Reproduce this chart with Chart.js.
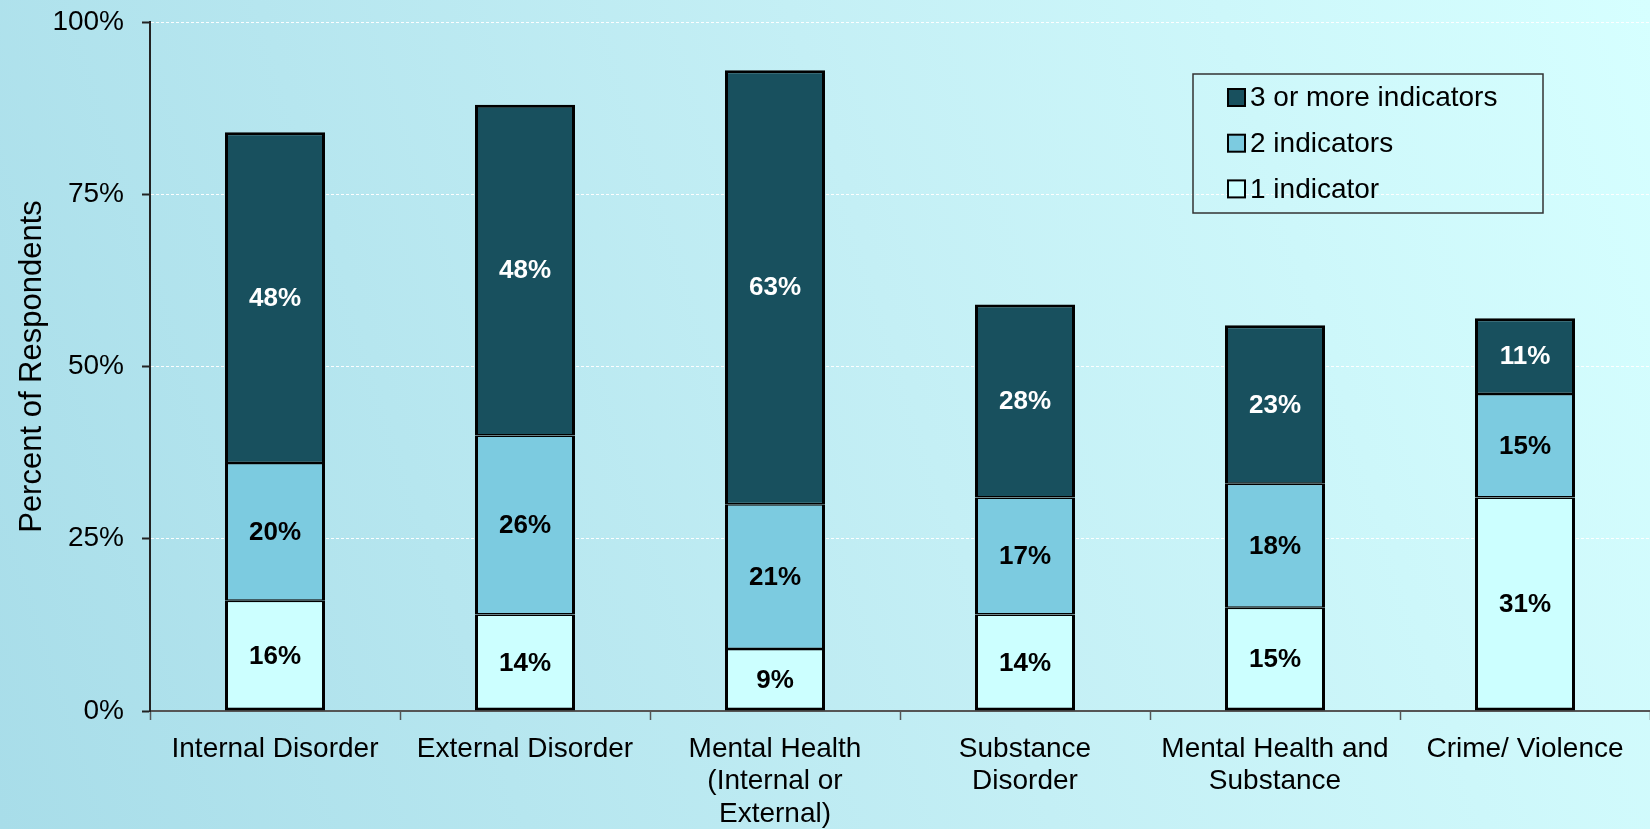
<!DOCTYPE html>
<html>
<head>
<meta charset="utf-8">
<script src="https://cdn.jsdelivr.net/npm/chart.js@4/dist/chart.umd.min.js"></script>
<style>
  html, body { margin: 0; padding: 0; }
  body {
    width: 1650px;
    height: 829px;
    overflow: hidden;
    background: linear-gradient(72deg, #a8dde9 0%, #c4eff5 55%, #d6ffff 100%);
  }
  #wrap { position: relative; width: 1650px; height: 829px; }
</style>
</head>
<body>
<div id="wrap"><canvas id="chart" width="1650" height="829"></canvas></div>
<script>
// Categories and the three stacked series (percent of respondents).
const categories = [
  "Internal Disorder",
  "External Disorder",
  ["Mental Health", "(Internal or", "External)"],
  ["Substance", "Disorder"],
  ["Mental Health and", "Substance"],
  "Crime/ Violence",
];
const oneIndicator = [16, 14, 9, 14, 15, 31];
const twoIndicators = [20, 26, 21, 17, 18, 15];
const threePlusIndicators = [48, 48, 63, 28, 23, 11];
const yTicks = [0, 25, 50, 75, 100];

const FONT = "'Liberation Sans', Arial, sans-serif";

// Writes each segment's value in the middle of the segment.
const segmentLabels = {
  id: "segmentLabels",
  afterDatasetsDraw(chart) {
    const { ctx } = chart;
    ctx.save();
    ctx.font = `bold 26px ${FONT}`;
    ctx.textAlign = "center";
    ctx.textBaseline = "middle";
    chart.data.datasets.forEach((ds, i) => {
      const meta = chart.getDatasetMeta(i);
      meta.data.forEach((bar, j) => {
        ctx.fillStyle = ds.labelColor;
        ctx.fillText(ds.data[j] + "%", bar.x, (bar.y + bar.base) / 2 + 1);
      });
    });
    ctx.restore();
  },
};

// Boxed legend in the upper right of the plot, top series first.
const boxLegend = {
  id: "boxLegend",
  afterDraw(chart) {
    const { ctx, chartArea } = chart;
    const left = chartArea.right - 457;
    const top = chartArea.top + 52;
    const w = 350;
    const h = 139;
    ctx.save();
    ctx.strokeStyle = "#333";
    ctx.lineWidth = 1.5;
    ctx.strokeRect(left, top, w, h);
    ctx.font = `28px ${FONT}`;
    ctx.textBaseline = "middle";
    ctx.textAlign = "left";
    const items = chart.data.datasets.slice().reverse();
    items.forEach((ds, k) => {
      const cy = top + 23.5 + k * 45.7;
      ctx.fillStyle = ds.backgroundColor;
      ctx.fillRect(left + 35, cy - 8.5, 17, 17);
      ctx.strokeStyle = "#000";
      ctx.lineWidth = 2;
      ctx.strokeRect(left + 35, cy - 8.5, 17, 17);
      ctx.fillStyle = "#000";
      ctx.fillText(ds.label, left + 57, cy + 1);
    });
    ctx.restore();
  },
};

const barStyle = {
  borderColor: "#000",
  borderSkipped: false,
  inflateAmount: 0,
  categoryPercentage: 1,
  barPercentage: 0.4,
};

// Shared edges between stacked segments get half width on each side.
const edges = (top, bottom) => ({ left: 3, right: 3, top, bottom });

new Chart(document.getElementById("chart"), {
  type: "bar",
  data: {
    labels: categories,
    datasets: [
      { label: "1 indicator", data: oneIndicator, backgroundColor: "#ccffff", labelColor: "#000", borderWidth: edges(1.5, 3), ...barStyle },
      { label: "2 indicators", data: twoIndicators, backgroundColor: "#7ccbe0", labelColor: "#000", borderWidth: edges(1.5, 1.5), ...barStyle },
      { label: "3 or more indicators", data: threePlusIndicators, backgroundColor: "#18505e", labelColor: "#fff", borderWidth: edges(3, 1.5), ...barStyle },
    ],
  },
  plugins: [segmentLabels, boxLegend],
  options: {
    responsive: false,
    animation: false,
    devicePixelRatio: 1,
    layout: { padding: { top: 22, right: 0, bottom: 0, left: 0 } },
    plugins: {
      legend: { display: false },
      tooltip: { enabled: false },
    },
    scales: {
      x: {
        stacked: true,
        afterFit: (scale) => { scale.height = 118; },
        border: { color: "#555", width: 2 },
        grid: {
          offset: true,
          drawOnChartArea: false,
          tickLength: 9,
          tickColor: "#555",
          tickWidth: 1.5,
        },
        ticks: {
          color: "#000",
          padding: 13,
          maxRotation: 0,
          autoSkip: false,
          font: { family: FONT, size: 28, lineHeight: 1.16 },
        },
      },
      y: {
        stacked: true,
        min: 0,
        max: 100,
        afterFit: (scale) => {
          scale.width = 150;
          scale.paddingTop = 0;
          scale.paddingBottom = 0;
        },
        afterBuildTicks: (scale) => { scale.ticks = yTicks.map((v) => ({ value: v })); },
        border: { color: "#222", width: 2, dash: [3, 2] },
        grid: {
          color: (c) => (c.tick && c.tick.value === 0 ? "rgba(0,0,0,0)" : "rgba(255,255,255,0.95)"),
          lineWidth: 1,
          tickLength: 8,
          tickColor: "#222",
          tickWidth: 2,
        },
        ticks: {
          color: "#000",
          padding: 18,
          callback: (v) => v + "%",
          font: { family: FONT, size: 28 },
        },
        title: {
          display: true,
          text: "Percent of Respondents",
          color: "#000",
          padding: { top: 14, bottom: 0 },
          font: { family: FONT, size: 31 },
        },
      },
    },
  },
});
</script>
</body>
</html>
